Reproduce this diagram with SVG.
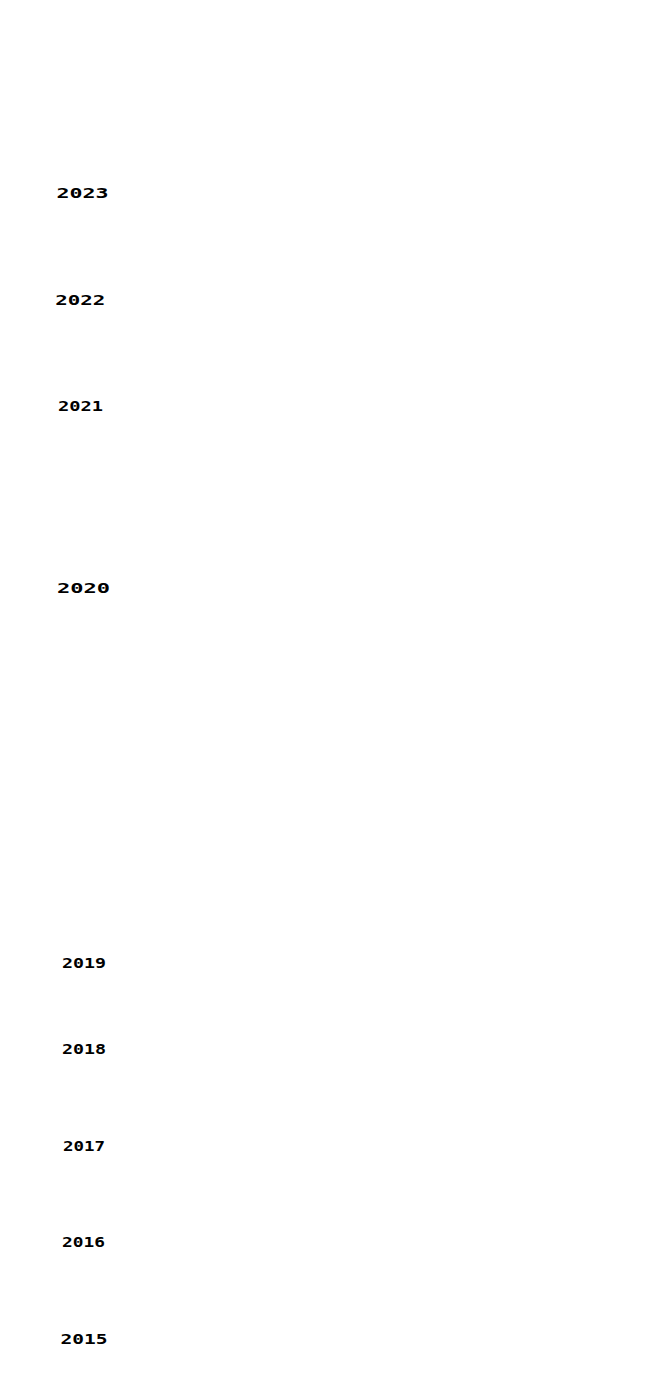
<svg xmlns="http://www.w3.org/2000/svg" width="650" height="1395" viewBox="0 0 650 1395">
<style>
.yr{font-family:"DejaVu Sans Mono","Liberation Mono",monospace;font-weight:bold;font-size:14.5px;fill:#000}
</style>
<rect width="650" height="1395" fill="#fff"/>
<g id="connectors"></g>
<g id="y2023"><text class="yr" x="56.5" y="197.5" textLength="52" lengthAdjust="spacingAndGlyphs">2023</text></g>
<g id="y2022"><text class="yr" x="55.3" y="304.5" textLength="50" lengthAdjust="spacingAndGlyphs">2022</text></g>
<g id="y2021"><text class="yr" x="58" y="410.5" textLength="45" lengthAdjust="spacingAndGlyphs">2021</text></g>
<g id="y2020"><text class="yr" x="57" y="592.5" textLength="53" lengthAdjust="spacingAndGlyphs">2020</text></g>
<g id="y2019"><text class="yr" x="62" y="967.5" textLength="44" lengthAdjust="spacingAndGlyphs">2019</text></g>
<g id="y2018"><text class="yr" x="62" y="1053.5" textLength="44" lengthAdjust="spacingAndGlyphs">2018</text></g>
<g id="y2017"><text class="yr" x="63" y="1150.5" textLength="42" lengthAdjust="spacingAndGlyphs">2017</text></g>
<g id="y2016"><text class="yr" x="62" y="1246.5" textLength="43" lengthAdjust="spacingAndGlyphs">2016</text></g>
<g id="y2015"><text class="yr" x="60.5" y="1343.5" textLength="47" lengthAdjust="spacingAndGlyphs">2015</text></g>
</svg>
